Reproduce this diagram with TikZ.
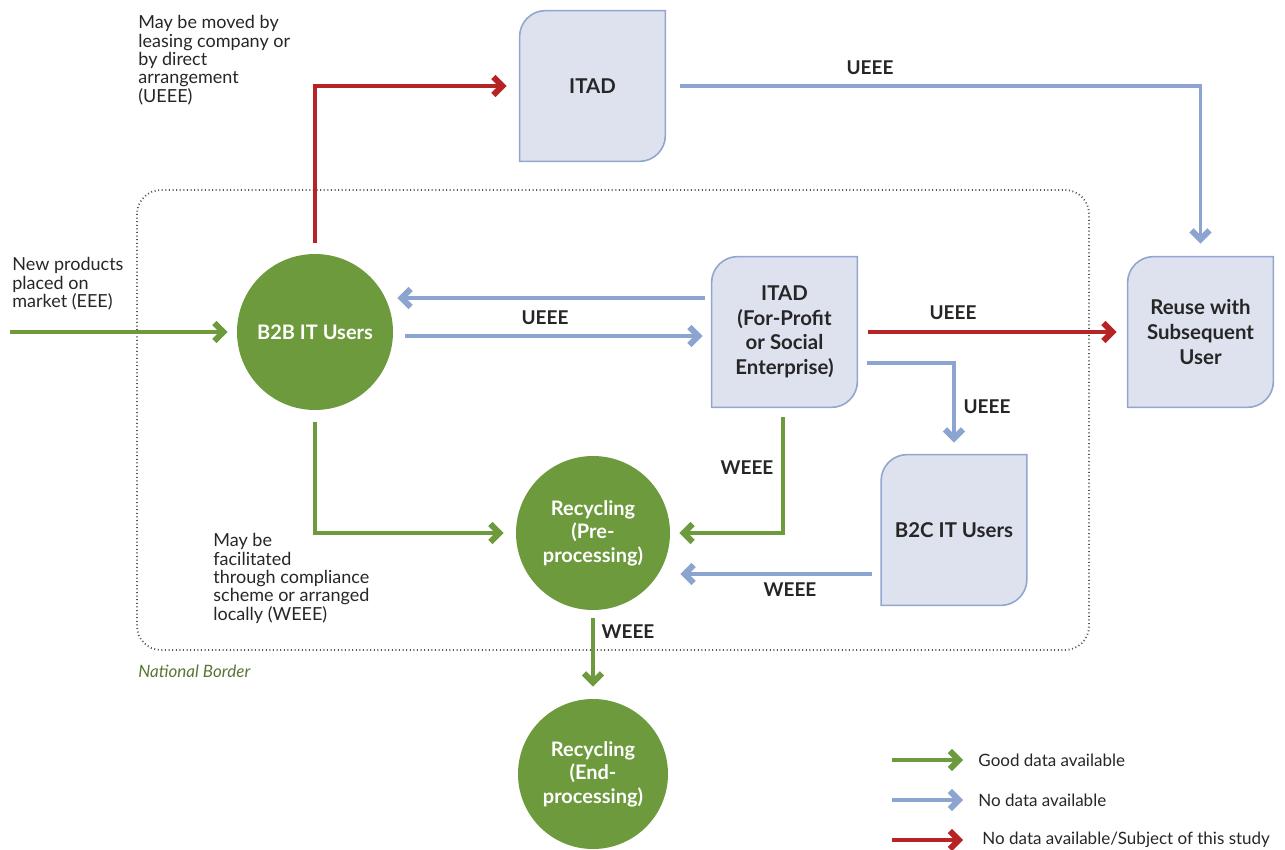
\documentclass[tikz,border=0pt]{standalone}
\usepackage{fontspec}
\setmainfont{Lato}
\usepackage{tikz}
\usetikzlibrary{arrows.meta}

\definecolor{flowgreen}{RGB}{108,154,60}
\definecolor{flowblue}{RGB}{140,164,208}
\definecolor{flowred}{RGB}{183,36,38}
\definecolor{boxfill}{RGB}{221,226,238}
\definecolor{boxedge}{RGB}{146,166,208}
\definecolor{inktext}{RGB}{38,38,38}
\definecolor{borderdot}{RGB}{85,88,75}
\definecolor{bordertext}{RGB}{88,118,50}

\pgfdeclarelayer{background}
\pgfsetlayers{background,main}

\tikzset{
  flow/.style={line width=1.6pt,-{Straight Barb[length=4.5pt,width=9pt,line width=3pt 0,line join=miter]}},
  goodflow/.style={flow,draw=flowgreen},
  noflow/.style={flow,draw=flowblue},
  studyflow/.style={flow,draw=flowred},
  usernode/.style={circle,fill=flowgreen,text=white,font=\bfseries\fontsize{10}{11.8}\selectfont,align=center,minimum size=78pt,inner sep=0pt},
  itadbox/.style={rectangle,minimum width=72.5pt,minimum height=75pt,text=inktext,font=\bfseries\fontsize{10.2}{12.3}\selectfont,align=center,inner sep=0pt},
  boxline/.style={fill=boxfill,draw=boxedge,line width=0.8pt},
  flowlabel/.style={text=inktext,font=\bfseries\fontsize{9.5}{11}\selectfont},
  note/.style={text=inktext,font=\fontsize{9}{9.2}\selectfont,align=left,anchor=north west,inner sep=0pt},
  legendtext/.style={text=inktext,font=\fontsize{8.5}{10}\selectfont,anchor=west,inner sep=0pt},
  border/.style={draw=borderdot,line width=0.9pt,dash pattern=on 0.5pt off 1.3pt,rounded corners=12pt},
}

% box with two rounded corners, drawn behind its node
\newcommand{\cornerbox}[1]{%
  \begin{pgfonlayer}{background}
  \draw[boxline] (#1.south west) -- ([yshift=-13pt]#1.north west)
    arc[start angle=180,end angle=90,radius=13pt] -- (#1.north east)
    -- ([yshift=13pt]#1.south east)
    arc[start angle=0,end angle=-90,radius=13pt] -- cycle;
  \end{pgfonlayer}}

\begin{document}
\begin{tikzpicture}[x=0.5pt,y=0.5pt]
\useasboundingbox (0,0) rectangle (1285,-850);

% National border
\begin{pgfonlayer}{background}
\draw[border] (137,-190) rectangle (1089,-650);
\end{pgfonlayer}
\node[anchor=west,text=bordertext,font=\itshape\fontsize{8.5}{10}\selectfont,inner sep=0pt] (borderlabel) at (138,-671) {National Border};

%
% Users and recyclers
%
\node[usernode] (b2b) at (315,-332) {B2B IT Users};
\node[usernode,minimum size=77pt] (recpre) at (593,-533) {Recycling\\(Pre-\\processing)};
\node[usernode,minimum size=75pt] (recend) at (593,-774) {Recycling\\(End-\\processing)};

%
% ITAD and reuse boxes
%
\node[itadbox] (itadtop) at (592.5,-86) {ITAD};
\cornerbox{itadtop}
\node[itadbox] (itadmid) at (784.5,-332) {ITAD\\(For-Profit\\or Social\\Enterprise)};
\cornerbox{itadmid}
\node[itadbox] (reuse) at (1200.5,-332) {Reuse with\\Subsequent\\User};
\cornerbox{reuse}
\node[itadbox] (b2c) at (954,-530) {B2C IT Users};
\cornerbox{b2c}

% Notes
\node[note] (movednote) at (138,-15) {May be moved by\\leasing company or\\by direct\\arrangement\\(UEEE)};
\node[note] (newnote) at (12,-257) {New products\\placed on\\market (EEE)};
\node[note] (facnote) at (213,-533) {May be\\facilitated\\through compliance\\scheme or arranged\\locally (WEEE)};

%
% Flows
%
\coordinate (market) at (10,-332);
\draw[goodflow] (market) -- ([xshift=-4.5pt]b2b.west);

\draw[studyflow] ([yshift=5.5pt]b2b.north) |- ([xshift=-6.5pt]itadtop.west);
\draw[noflow] ([xshift=7.5pt]itadtop.east) -| ([yshift=6.5pt]reuse.north);

\draw[noflow] ([xshift=-3.5pt,yshift=17pt]itadmid.west) -- ([xshift=2pt,yshift=17pt]b2b.east);
\draw[noflow] ([xshift=6pt,yshift=-2pt]b2b.east) -- ([xshift=-4.5pt,yshift=-2pt]itadmid.west);
\draw[studyflow] ([xshift=5.5pt]itadmid.east) -- ([xshift=-5.5pt]reuse.west);
\draw[noflow] ([xshift=5pt,yshift=-15.5pt]itadmid.east) -| ([yshift=6pt]b2c.north);

\draw[goodflow] ([xshift=-0.75pt,yshift=-5pt]itadmid.south) |- ([xshift=4.5pt]recpre.east);
\draw[noflow] ([xshift=-4.5pt,yshift=-22pt]b2c.west) -- ([xshift=5pt,yshift=-20.5pt]recpre.east);
\draw[goodflow] ([yshift=-6pt]b2b.south) |- ([xshift=-6pt]recpre.west);
\draw[goodflow] ([yshift=-4pt]recpre.south) -- ([yshift=6pt]recend.north);

% Flow labels
\node[flowlabel] (lbltop) at (870,-68) {UEEE};
\node[flowlabel] (lblfwd) at (545,-318) {UEEE};
\node[flowlabel] (lblreuse) at (953,-313) {UEEE};
\node[flowlabel] (lblb2c) at (987,-407) {UEEE};
\node[flowlabel] (lblitadw) at (747,-468) {WEEE};
\node[flowlabel] (lblb2cw) at (790,-590) {WEEE};
\node[flowlabel] (lbldown) at (628,-632) {WEEE};

%
% Legend
%
\node[legendtext] (leggood) at (978,-760) {Good data available};
\node[legendtext] (legnone) at (978,-800) {No data available};
\node[legendtext] (legstudy) at (982,-840) {No data available/Subject of this study};
\coordinate (leggoodsrc) at (892,-760);
\coordinate (legnonesrc) at (892,-800);
\coordinate (legstudysrc) at (892,-840);
\draw[goodflow] (leggoodsrc) -- ([xshift=-7.5pt]leggood.west);
\draw[noflow] (legnonesrc) -- ([xshift=-7.5pt]legnone.west);
\draw[studyflow] (legstudysrc) -- ([xshift=-9.5pt]legstudy.west);

\end{tikzpicture}
\end{document}
